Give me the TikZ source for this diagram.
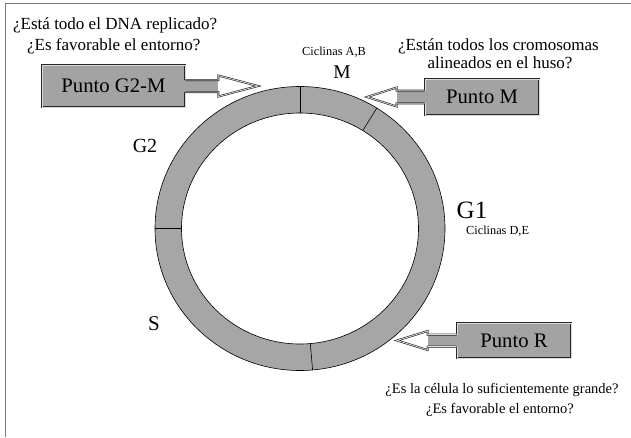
\documentclass[tikz,border=0pt]{standalone}
\usepackage{fontspec}
\setmainfont{Liberation Serif}
\usetikzlibrary{calc}
\definecolor{ringgray}{RGB}{166,166,166}
\definecolor{boxgray}{RGB}{163,163,163}
\definecolor{framegray}{RGB}{120,120,120}
\tikzset{
  boxst/.style={draw=black!85, line width=0.6pt, double=gray!30, double distance=0.8pt,
    fill=boxgray, font=\fontsize{20.7}{23}\selectfont, inner sep=0pt},
  arrline/.style={draw=black!85, line width=0.6pt, double=gray!30, double distance=0.8pt, line join=miter},
  qtop/.style={font=\fontsize{17}{20}\selectfont, inner sep=0pt},
  qbot/.style={font=\fontsize{14.5}{17}\selectfont, inner sep=0pt},
  small/.style={font=\fontsize{12.3}{14}\selectfont, inner sep=0pt},
  phase/.style={inner sep=0pt},
  divider/.style={draw=black, line width=0.6pt},
}
\begin{document}
\begin{tikzpicture}[x=1pt,y=-1pt]
\path[use as bounding box] (0,0) rectangle (631,437);
% frame lines
\draw[framegray, line width=1.3pt] (5.5,437) -- (5.5,3.8) -- (631,3.8);

% ring
\fill[ringgray, even odd rule] (300,228.5) ellipse [x radius=145pt, y radius=142pt]
  (300,228.5) ellipse [x radius=118.5pt, y radius=115.5pt];
\draw[line width=0.6pt] (300,228.5) ellipse [x radius=145pt, y radius=142pt];
\draw[line width=0.6pt] (300,228.5) ellipse [x radius=118.5pt, y radius=115.5pt];
% dividers
\coordinate (o1) at (300,86.5);   \coordinate (i1) at (300,113);
\coordinate (o2) at (376.8,108.1); \coordinate (i2) at (362.8,130.6);
\coordinate (o3) at (155,228.5);  \coordinate (i3) at (181.5,228.5);
\coordinate (o4) at (312.6,370);  \coordinate (i4) at (310.3,343.6);
\draw[divider] (o1) -- (i1);
\draw[divider] (o2) -- (i2);
\draw[divider] (o3) -- (i3);
\draw[divider] (o4) -- (i4);

% boxes
\node[boxst, minimum width=143pt, minimum height=42pt] (g2m) at (113.5,86) {Punto G2-M};
\node[boxst, minimum width=114pt, minimum height=36pt] (pm) at (482,97) {Punto M};
\node[boxst, minimum width=114pt, minimum height=35pt] (pr) at (514,340.5) {Punto R};

% arrow G2-M
\coordinate (tipA) at (258,86);
\fill[boxgray] ($(g2m.east)+(-2,-6)$) rectangle ($(g2m.east)+(33,6)$);
\fill[white] ($(g2m.east)+(33,-10.5)$) -- (tipA) -- ($(g2m.east)+(33,10.5)$) -- cycle;
\draw[arrline] ($(g2m.east)+(0,-6)$) -- ++(33,0) -- ++(0,-4.5) -- (tipA)
  -- ($(g2m.east)+(33,10.5)$) -- ++(0,-4.5) -- ($(g2m.east)+(0,6)$);

% arrow M
\coordinate (tipB) at (367,97);
\fill[boxgray] ($(pm.west)+(2,-6.3)$) rectangle ($(pm.west)+(-28,6.3)$);
\fill[white] ($(pm.west)+(-28,-9.5)$) -- (tipB) -- ($(pm.west)+(-28,9.5)$) -- cycle;
\draw[arrline] ($(pm.west)+(0,-6.3)$) -- ++(-28,0) -- ++(0,-3.2) -- (tipB)
  -- ($(pm.west)+(-28,9.5)$) -- ++(0,-3.2) -- ($(pm.west)+(0,6.3)$);

% arrow R
\coordinate (tipC) at (397,340.5);
\fill[boxgray] ($(pr.west)+(2,-6)$) rectangle ($(pr.west)+(-29,6)$);
\fill[white] ($(pr.west)+(-29,-9.5)$) -- (tipC) -- ($(pr.west)+(-29,9.5)$) -- cycle;
\draw[arrline] ($(pr.west)+(0,-6)$) -- ++(-29,0) -- ++(0,-3.5) -- (tipC)
  -- ($(pr.west)+(-29,9.5)$) -- ++(0,-3.5) -- ($(pr.west)+(0,6)$);

% questions
\node[qtop, anchor=base west] (q1) at (13,29.5) {¿Está todo el DNA replicado?};
\node[qtop, anchor=base west] (q2) at (27,50) {¿Es favorable el entorno?};
\node[qtop, anchor=base] (q3) at (498.5,50) {¿Están todos los cromosomas};
\node[qtop, anchor=base] (q4) at (500,68.5) {alineados en el huso?};
\node[qbot, anchor=base] (q5) at (502,393) {¿Es la célula lo suficientemente grande?};
\node[qbot, anchor=base] (q6) at (500,413) {¿Es favorable el entorno?};

% phase labels
\node[small, anchor=base] (cab) at (334,55) {Ciclinas A,B};
\node[phase, anchor=base, font=\fontsize{19.5}{22}\selectfont] (lm) at (342,78) {M};
\node[phase, anchor=base, font=\fontsize{25}{28}\selectfont] (lg1) at (472,218) {G1};
\node[small, anchor=base west] (cde) at (466,234) {Ciclinas D,E};
\node[phase, anchor=base, font=\fontsize{20}{22}\selectfont] (lg2) at (145,152) {G2};
\node[phase, anchor=base, font=\fontsize{21}{23}\selectfont] (ls) at (154,330) {S};
\end{tikzpicture}
\end{document}
